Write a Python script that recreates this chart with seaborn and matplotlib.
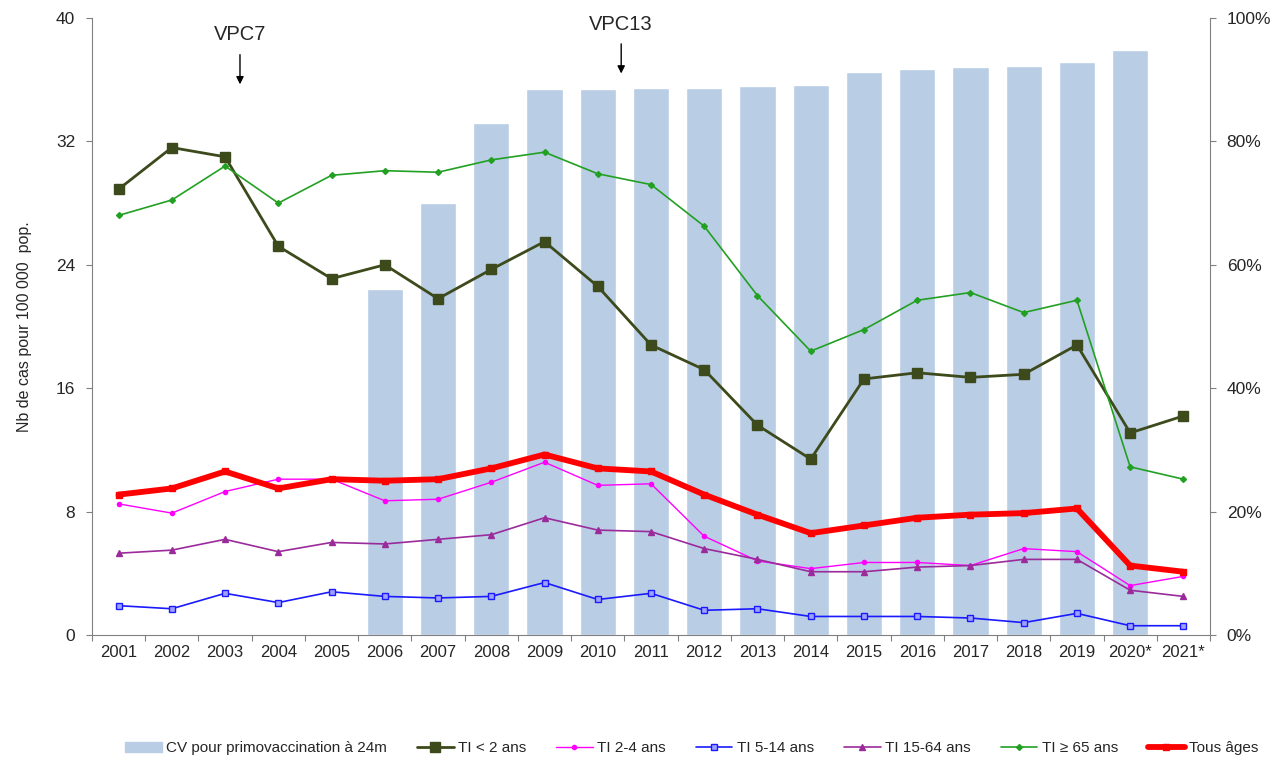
import matplotlib
matplotlib.use("Agg")
import matplotlib.pyplot as plt
import matplotlib.patches as mpatches
from matplotlib.ticker import FixedLocator, PercentFormatter
import numpy as np
import pandas as pd
import seaborn as sns

years = ["2001", "2002", "2003", "2004", "2005", "2006", "2007", "2008", "2009", "2010",
         "2011", "2012", "2013", "2014", "2015", "2016", "2017", "2018", "2019", "2020*", "2021*"]

# couverture vaccinale (%), pas de valeur pour 2001-2005 et 2021*
cv_24m = [np.nan, np.nan, np.nan, np.nan, np.nan, 56, 70, 83, 88.5, 88.5,
          88.7, 88.7, 89.0, 89.1, 91.2, 91.7, 92.1, 92.2, 92.9, 94.8, np.nan]

ti_lt2 = [28.9, 31.6, 31.0, 25.2, 23.1, 24.0, 21.8, 23.7, 25.5, 22.6,
          18.8, 17.2, 13.6, 11.4, 16.6, 17.0, 16.7, 16.9, 18.8, 13.1, 14.2]
ti_2_4 = [8.5, 7.9, 9.3, 10.1, 10.1, 8.7, 8.8, 9.9, 11.2, 9.7,
          9.8, 6.4, 4.8, 4.3, 4.7, 4.7, 4.5, 5.6, 5.4, 3.2, 3.8]
ti_5_14 = [1.9, 1.7, 2.7, 2.1, 2.8, 2.5, 2.4, 2.5, 3.4, 2.3,
           2.7, 1.6, 1.7, 1.2, 1.2, 1.2, 1.1, 0.8, 1.4, 0.6, 0.6]
ti_15_64 = [5.3, 5.5, 6.2, 5.4, 6.0, 5.9, 6.2, 6.5, 7.6, 6.8,
            6.7, 5.6, 4.9, 4.1, 4.1, 4.4, 4.5, 4.9, 4.9, 2.9, 2.5]
ti_65 = [27.2, 28.2, 30.4, 28.0, 29.8, 30.1, 30.0, 30.8, 31.3, 29.9,
         29.2, 26.5, 22.0, 18.4, 19.8, 21.7, 22.2, 20.9, 21.7, 10.9, 10.1]
tous_ages = [9.1, 9.5, 10.6, 9.5, 10.1, 10.0, 10.1, 10.8, 11.7, 10.8,
             10.6, 9.1, 7.8, 6.6, 7.1, 7.6, 7.8, 7.9, 8.2, 4.5, 4.1]

BAR = "#b9cde5"
GREY = "#808080"
TXT = "#262626"

sns.set_style("ticks")
plt.rcParams["font.family"] = ["Liberation Sans", "DejaVu Sans"]
plt.rcParams["font.size"] = 11
plt.rcParams["text.color"] = TXT
plt.rcParams["xtick.color"] = TXT
plt.rcParams["ytick.color"] = TXT

fig = plt.figure(figsize=(12.81, 7.62), dpi=100)
ax = fig.add_axes([0.0718, 0.1667, 0.8728, 0.8097])
ax2 = ax.twinx()

# barres de couverture sur l'axe de droite
bars = pd.DataFrame({"annee": years, "cv": cv_24m})
sns.barplot(data=bars, x="annee", y="cv", order=years, color=BAR, saturation=1,
            width=0.68, ax=ax2)
ax2.set_ylim(0, 100)
ax2.set_yticks([0, 20, 40, 60, 80, 100])
ax2.yaxis.set_major_formatter(PercentFormatter(decimals=0))
ax2.set_ylabel("")
ax2.set_xlabel("")

# courbes sur l'axe de gauche, au-dessus des barres
ax.set_zorder(ax2.get_zorder() + 1)
ax.patch.set_visible(False)

idx = np.arange(len(years))
series = [
    ("TI < 2 ans", ti_lt2, "#3d4a1c", 2.0, "s", 7, "#3d4a1c"),
    ("TI 2-4 ans", ti_2_4, "#ff00ff", 1.0, "o", 3, "#ff00ff"),
    ("TI 5-14 ans", ti_5_14, "#1a1aff", 1.2, "s", 4.5, "#a0a0ff"),
    ("TI 15-64 ans", ti_15_64, "#9b2a9b", 1.2, "^", 4.5, "#9b2a9b"),
    ("TI \u2265 65 ans", ti_65, "#22a022", 1.2, "D", 3, "#22a022"),
    ("Tous \u00e2ges", tous_ages, "#ff0000", 4.2, "s", 5, "#ff0000"),
]
for label, vals, col, lw, mk, ms, mfc in series:
    sns.lineplot(x=idx, y=vals, ax=ax, color=col, linewidth=lw, marker=mk,
                 markersize=ms, markerfacecolor=mfc, markeredgecolor=col,
                 markeredgewidth=1, label=label, legend=False)

ax.set_xlim(-0.5, len(years) - 0.5)
ax.set_ylim(0, 40)
ax.set_yticks([0, 8, 16, 24, 32, 40])
ax.set_ylabel("Nb de cas pour 100 000  pop.", fontsize=11.5, labelpad=17)

# graduations entre les années, étiquettes au centre
ax.xaxis.set_major_locator(FixedLocator(np.arange(-0.5, len(years), 1.0)))
ax.xaxis.set_major_formatter(plt.NullFormatter())
ax.xaxis.set_minor_locator(FixedLocator(idx))
ax.set_xticklabels(years, minor=True)
ax.tick_params(axis="x", which="minor", length=0, pad=7, labelsize=12)
ax.tick_params(axis="x", which="major", length=4, color=GREY)
ax.tick_params(axis="y", length=4, color=GREY, labelsize=12.5, pad=8)
ax2.tick_params(axis="y", length=4, color=GREY, labelsize=12.5, pad=8)
ax2.tick_params(axis="x", length=0, labelbottom=False)

for a in (ax, ax2):
    a.spines["top"].set_visible(False)
    for s in ("left", "right", "bottom"):
        a.spines[s].set_color(GREY)
ax.spines["right"].set_visible(False)
ax2.spines["left"].set_visible(False)
ax2.spines["bottom"].set_visible(False)

arrow = dict(arrowstyle="-|>", color="black", lw=1, mutation_scale=11, shrinkA=5, shrinkB=0)
ax.annotate("VPC7", xy=(2.28, 35.7), xytext=(2.28, 38.9), ha="center", va="center",
            fontsize=14.5, arrowprops=arrow)
ax.annotate("VPC13", xy=(9.44, 36.4), xytext=(9.44, 39.6), ha="center", va="center",
            fontsize=14.5, arrowprops=arrow)

handles, labels = ax.get_legend_handles_labels()
handles = [mpatches.Patch(color=BAR)] + handles
labels = ["CV pour primovaccination \u00e0 24m"] + labels
fig.legend(handles, labels, loc="center", bbox_to_anchor=(0.54, 0.018), ncol=7,
           frameon=False, fontsize=11, handlelength=2.4, handletextpad=0.3,
           columnspacing=1.95)

fig.savefig("out.png", dpi=100)
